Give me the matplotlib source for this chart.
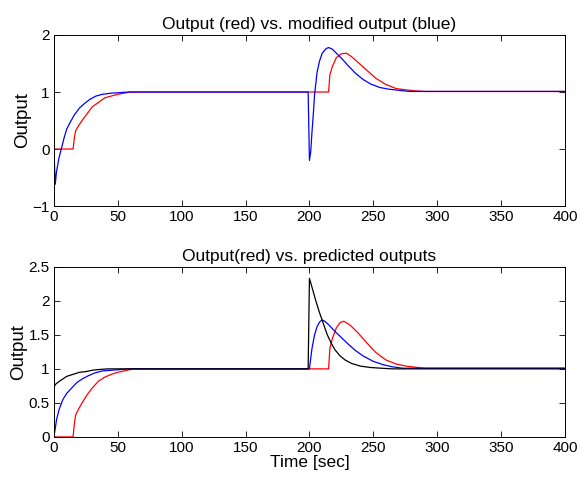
import matplotlib
matplotlib.use('Agg')
import matplotlib.pyplot as plt
import numpy as np

plt.rcParams['font.family'] = ['Liberation Sans', 'DejaVu Sans']

# top panel: actual output (red) and modified output (blue)
t_red = [0, 15, 16, 17, 19, 22, 26, 30, 35, 40, 45, 50, 55, 60, 215, 216, 218, 221, 225, 229, 233, 238, 245, 252, 260, 268, 275, 283, 290, 400]
y_red = [0, 0, 0.2, 0.32, 0.4, 0.5, 0.62, 0.74, 0.82, 0.9, 0.93, 0.96, 0.98, 1.0, 1.0, 1.3, 1.45, 1.6, 1.67, 1.68, 1.62, 1.52, 1.38, 1.24, 1.13, 1.06, 1.04, 1.02, 1.01, 1.01]

t_mod = [0, 1, 2, 4, 6, 8, 10, 13, 16, 20, 24, 28, 33, 38, 45, 52, 58, 199, 200, 201, 202, 203, 204, 206, 208, 210, 213, 215, 218, 222, 226, 230, 236, 242, 248, 255, 262, 270, 278, 285, 400]
y_mod = [0, -0.62, -0.4, -0.15, 0.02, 0.2, 0.35, 0.48, 0.6, 0.72, 0.8, 0.87, 0.93, 0.96, 0.98, 0.99, 1.0, 1.0, -0.2, -0.05, 0.3, 0.6, 0.95, 1.35, 1.55, 1.68, 1.76, 1.78, 1.75, 1.66, 1.57, 1.47, 1.33, 1.22, 1.14, 1.08, 1.05, 1.03, 1.01, 1.01, 1.01]

# bottom panel: actual output (red) vs predicted outputs (blue, black)
t_out = [0, 15, 16, 17, 19, 22, 26, 30, 35, 40, 45, 50, 55, 62, 215, 216, 218, 221, 224, 227, 232, 238, 245, 252, 260, 268, 276, 285, 290, 400]
y_out = [0, 0, 0.2, 0.32, 0.4, 0.5, 0.62, 0.72, 0.82, 0.88, 0.92, 0.95, 0.97, 1.0, 1.0, 1.3, 1.45, 1.6, 1.68, 1.7, 1.64, 1.53, 1.38, 1.24, 1.13, 1.07, 1.04, 1.02, 1.01, 1.01]

t_pb = [0, 1, 2, 4, 7, 10, 14, 18, 22, 27, 32, 38, 45, 52, 58, 200, 201, 202, 204, 206, 208, 210, 212, 215, 220, 225, 230, 236, 242, 250, 258, 265, 273, 280, 400]
y_pb = [0, 0.12, 0.25, 0.4, 0.55, 0.64, 0.72, 0.8, 0.85, 0.9, 0.94, 0.97, 0.98, 0.99, 1.0, 1.0, 1.15, 1.3, 1.5, 1.62, 1.69, 1.72, 1.7, 1.65, 1.55, 1.46, 1.37, 1.27, 1.19, 1.11, 1.06, 1.03, 1.01, 1.01, 1.01]

t_pk = [0, 1, 3, 6, 10, 15, 20, 25, 30, 35, 42, 50, 199, 200, 202, 205, 208, 211, 214, 217, 220, 224, 228, 233, 240, 248, 256, 265, 400]
y_pk = [0.72, 0.77, 0.8, 0.84, 0.89, 0.92, 0.95, 0.96, 0.98, 0.99, 1.0, 1.0, 1.0, 2.33, 2.2, 2.0, 1.82, 1.66, 1.5, 1.38, 1.28, 1.19, 1.13, 1.08, 1.04, 1.02, 1.01, 1.0, 1.0]

fig = plt.figure(figsize=(5.8, 4.86), dpi=100)
ax1 = fig.add_axes([0.093, 0.576, 0.881, 0.352])
ax2 = fig.add_axes([0.093, 0.101, 0.881, 0.35])

ax1.plot(t_red, y_red, color='red', lw=0.9)
ax1.plot(t_mod, y_mod, color='blue', lw=0.9)
ax1.set_xlim(0, 400)
ax1.set_ylim(-1, 2)
ax1.set_yticks([-1, 0, 1, 2])
ax1.set_title('Output (red) vs. modified output (blue)', fontsize=12.5, pad=4)
ax1.set_ylabel('Output', fontsize=13.5, labelpad=1)

ax2.plot(t_out, y_out, color='red', lw=0.9)
ax2.plot(t_pb, y_pb, color='blue', lw=0.9)
ax2.plot(t_pk, y_pk, color='black', lw=0.9)
ax2.set_xlim(0, 400)
ax2.set_ylim(0, 2.5)
ax2.set_yticks([0, 0.5, 1, 1.5, 2, 2.5])
ax2.set_yticklabels(['0', '0.5', '1', '1.5', '2', '2.5'])
ax2.set_title('Output(red) vs. predicted outputs', fontsize=12.5, pad=4)
ax2.set_ylabel('Output', fontsize=13.5, labelpad=1)
ax2.set_xlabel('Time [sec]', fontsize=12.5, labelpad=0)

for ax in (ax1, ax2):
    ax.set_xticks(np.arange(0, 401, 50))
    ax.tick_params(direction='in', top=True, right=True, labelsize=11, length=4, width=0.6, pad=3)
    for s in ax.spines.values():
        s.set_linewidth(0.7)

fig.savefig('out.png', dpi=100)
